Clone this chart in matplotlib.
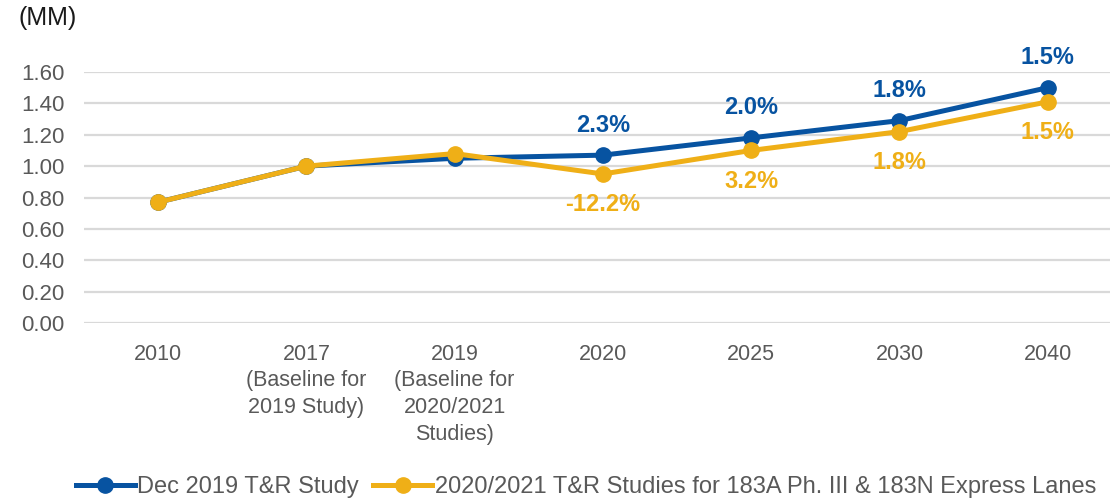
import matplotlib
matplotlib.use("Agg")
import matplotlib.pyplot as plt
from matplotlib.lines import Line2D

categories = ["2010", "2017\n(Baseline for\n2019 Study)", "2019\n(Baseline for\n2020/2021\nStudies)",
              "2020", "2025", "2030", "2040"]
dec2019 = [0.77, 1.00, 1.05, 1.07, 1.18, 1.29, 1.50]
studies2021 = [0.77, 1.00, 1.08, 0.95, 1.10, 1.22, 1.41]
dec_labels = ["", "", "", "2.3%", "2.0%", "1.8%", "1.5%"]
st_labels = ["", "", "", "-12.2%", "3.2%", "1.8%", "1.5%"]
yticks = [0.0, 0.2, 0.4, 0.6, 0.8, 1.0, 1.2, 1.4, 1.6]
series_names = ["Dec 2019 T&R Study", "2020/2021 T&R Studies for 183A Ph. III & 183N Express Lanes"]

BLUE = "#0753A1"
GOLD = "#EFAF17"
GRAY = "#595959"

plt.rcParams['font.family'] = ['Liberation Sans', 'DejaVu Sans']

fig = plt.figure(figsize=(11.10, 4.99), dpi=100)
ax = fig.add_axes([84/1110, 1-323/499, 1-84/1110, (323-72)/499])

x = list(range(len(categories)))
ax.set_xlim(-0.5, 6.42)
ax.set_ylim(0, 1.6)
ax.set_yticks(yticks)
ax.set_yticklabels([f"{v:.2f}" for v in yticks])
ax.yaxis.grid(True, color="#d9d9d9", linewidth=1.6)
ax.set_axisbelow(True)
for s in ax.spines.values():
    s.set_visible(False)
ax.tick_params(axis='both', length=0, labelsize=15.5, labelcolor=GRAY)
ax.tick_params(axis='y', labelsize=16, pad=14)
ax.set_xticks(x)
ax.set_xticklabels(categories, linespacing=1.35)
ax.tick_params(axis='x', pad=15)

lw, ms = 3.6, 11
ax.plot(x, dec2019, color=BLUE, linewidth=lw, marker='o', markersize=ms, clip_on=False, zorder=3)
ax.plot(x, studies2021, color=GOLD, linewidth=lw, marker='o', markersize=ms, clip_on=False, zorder=4)

for i, (v, lab) in enumerate(zip(dec2019, dec_labels)):
    if lab:
        ax.annotate(lab, (i, v), xytext=(0, 17), textcoords='offset points', ha='center', va='baseline',
                    color=BLUE, fontsize=17, fontweight='bold', annotation_clip=False)
for i, (v, lab) in enumerate(zip(studies2021, st_labels)):
    if lab:
        ax.annotate(lab, (i, v), xytext=(0, -14), textcoords='offset points', ha='center', va='top',
                    color=GOLD, fontsize=17, fontweight='bold', annotation_clip=False)

fig.text(19/1110, 1-18/499, "(MM)", fontsize=18, color="#1a1a1a", va='center', ha='left',
         family=['Liberation Sans', 'DejaVu Sans'])

handles = [Line2D([0], [0], color=BLUE, linewidth=lw, marker='o', markersize=ms),
           Line2D([0], [0], color=GOLD, linewidth=lw, marker='o', markersize=ms)]
fig.legend(handles, series_names, loc='center', bbox_to_anchor=(586/1110, 1-487/499), ncol=2,
           frameon=False, fontsize=17, labelcolor=GRAY, handlelength=2.5, handletextpad=0.1,
           columnspacing=0.6, borderpad=0)

fig.savefig("out.png", dpi=100)
